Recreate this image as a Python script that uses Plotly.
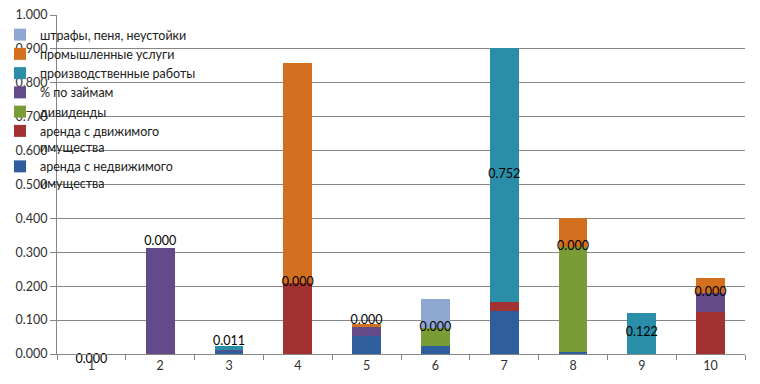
import plotly.graph_objects as go

categories = ["1", "2", "3", "4", "5", "6", "7", "8", "9", "10"]

s_nedv = [0, 0, 0.009, 0, 0.054, 0.024, 0.127, 0.005, 0, 0]
s_dvizh = [0, 0, 0, 0.209, 0, 0, 0.025, 0, 0, 0.124]
s_divid = [0, 0, 0, 0, 0, 0.052, 0, 0.311, 0, 0]
s_zaim = [0, 0.312, 0.004, 0, 0.025, 0, 0, 0, 0, 0.056]
s_proizv = [0, 0, 0.011, 0, 0, 0, 0.752, 0, 0.122, 0]
s_prom = [0, 0, 0, 0.650, 0.009, 0, 0, 0.084, 0, 0.044]
s_shtraf = [0, 0, 0, 0, 0, 0.086, 0, 0, 0, 0]

names = [
    "аренда с недвижимого<br>имущества",
    "аренда с движимого<br>имущества",
    "дивиденды",
    "% по займам",
    "производственные работы",
    "промышленные услуги",
    "штрафы, пеня, неустойки",
]
series = [s_nedv, s_dvizh, s_divid, s_zaim, s_proizv, s_prom, s_shtraf]
colors = ["#2F5E9E", "#A23131", "#7A9C36", "#634A88", "#2A8EA8", "#D2701F", "#8EA8D2"]

label_pos = ["bottom center", "top center", "top center", "middle center", "top center",
             "middle center", "middle center", "middle center", "middle center", "middle center"]

FONT = "Lato, Carlito, sans-serif"

fig = go.Figure()
for name, vals, col in zip(names, series, colors):
    fig.add_trace(go.Bar(x=categories, y=vals, name=name, marker=dict(color=col, line=dict(width=0))))

# data labels for "производственные работы", centred on its segment
base = [a + b + c + d for a, b, c, d in zip(s_nedv, s_dvizh, s_divid, s_zaim)]
label_y = [b + v / 2 for b, v in zip(base, s_proizv)]
fig.add_trace(go.Scatter(
    x=categories, y=label_y, mode="text",
    text=[f"{v:.3f}" for v in s_proizv], textposition=label_pos,
    textfont=dict(family=FONT, size=12.5, color="#000000"),
    showlegend=False, hoverinfo="skip", cliponaxis=False,
))

fig.update_layout(
    width=760, height=384,
    margin=dict(l=57, r=15, t=15, b=30, autoexpand=False),
    barmode="stack", bargap=0.58,
    plot_bgcolor="white", paper_bgcolor="white",
    font=dict(family=FONT, size=12, color="#303030"),
    legend=dict(
        xref="paper", yref="paper", x=-57 / 688, y=1 - 5 / 339,
        xanchor="left", yanchor="top",
        bgcolor="rgba(0,0,0,0)", font=dict(family=FONT, size=12.5, color="#202020"),
        traceorder="reversed", valign="top", tracegroupgap=0, itemwidth=30,
    ),
    xaxis=dict(
        showline=True, linecolor="#868686", ticks="outside", tickson="boundaries",
        ticklen=5, tickcolor="#868686", showgrid=False,
        tickfont=dict(family=FONT, size=12.5, color="#303030"),
    ),
    yaxis=dict(
        range=[0, 1], dtick=0.1, tickformat=".3f", showgrid=True, gridcolor="#868686",
        gridwidth=1, showline=True, linecolor="#868686", ticks="outside", ticklen=6,
        tickcolor="#868686", zeroline=False,
        tickfont=dict(family=FONT, size=12.5, color="#303030"),
    ),
)

fig.write_html("out.html", config={"displayModeBar": False},
               post_script="document.body.style.margin='0';")
